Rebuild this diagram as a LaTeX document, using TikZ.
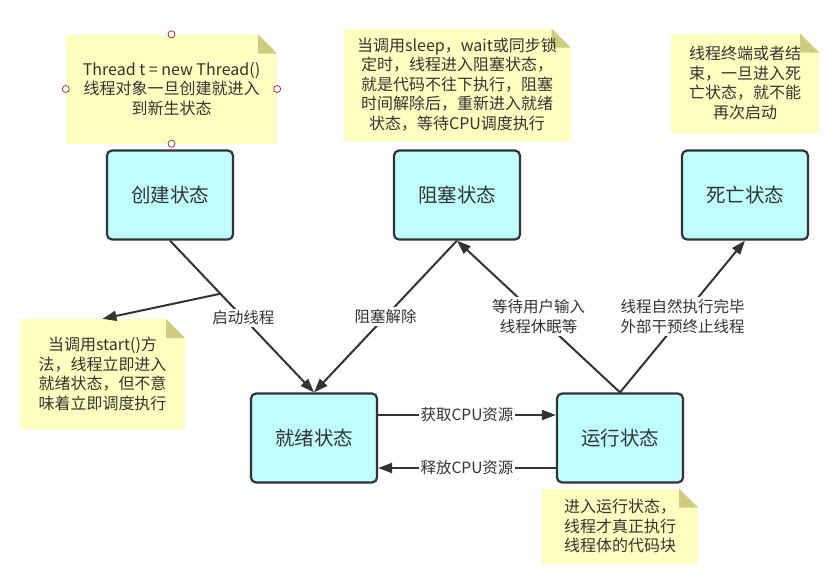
\documentclass[tikz,border=0pt]{standalone}
\usepackage{fontspec}
\setmainfont{Noto Sans CJK SC}
\usepackage{tikz}
\usetikzlibrary{
  arrows.meta,
  positioning
}
\definecolor{ink}{HTML}{333333}
\definecolor{statefill}{HTML}{C0FFFF}
\definecolor{memofill}{HTML}{FFFFC0}
\definecolor{memofold}{HTML}{CFCC80}
\definecolor{grip}{HTML}{A8323E}
\tikzset{
  flow/.style={
    -{Triangle[length=14pt,width=10pt]},
    line width=2pt,
    draw=ink
  },
  arrowlabel/.style={
    fill=white,
    inner sep=2pt,
    text=ink,
    font=\fontsize{15.5}{20}\selectfont,
    align=center
  },
  state/.style={
    draw=ink,
    fill=statefill,
    line width=2.2pt,
    rounded corners=5pt,
    minimum width=126pt,
    minimum height=89pt,
    text=ink,
    font=\fontsize{19.5}{24}\selectfont
  },
  memo/.style={
    fill=memofill,
    inner sep=0pt,
    align=center,
    text=ink,
    font=\fontsize{16}{19.5}\selectfont,
    path picture={
      \fill[white] ([xshift=-19pt]path picture bounding box.north east)
        -- (path picture bounding box.north east)
        -- ([yshift=-19pt]path picture bounding box.north east) -- cycle;
      \fill[memofold] ([xshift=-19pt]path picture bounding box.north east)
        -- ([xshift=-19pt,yshift=-19pt]path picture bounding box.north east)
        -- ([yshift=-19pt]path picture bounding box.north east) -- cycle;
    }
  },
  griphandle/.style={
    draw=grip,
    fill=white,
    line width=0.8pt
  }
}

\begin{document}
\begin{tikzpicture}[x=1pt, y=-1pt, node distance=10pt and 160pt]
  \useasboundingbox (0,0) rectangle (831,581);
  % states
  \node[state] (create) at (170,195) {创建状态};
  \node[state, right=158.8pt of create] (blocked) {阻塞状态};
  \node[state, right=159.8pt of blocked] (dead) {死亡状态};
  \node[state, below right=151.8pt and 15.8pt of create] (ready) {就绪状态};
  \node[state, right=177.8pt of ready] (running) {运行状态};
  % notes
  \node[memo, minimum width=211pt, minimum height=109pt, above=5.7pt of create, xshift=1.5pt] (newnote) {
    Thread t = new Thread()\\线程对象一旦创建就进入\\到新生状态
  };
  \node[memo, minimum width=227pt, minimum height=112pt, above=8.7pt of blocked] (blocknote) {
    当调用sleep，wait或同步锁\\定时，线程进入阻塞状态，\\就是代码不往下执行，阻塞\\时间解除后，重新进入就绪\\状态，等待CPU调度执行
  };
  \node[memo, minimum width=148pt, minimum height=99pt, above=16.7pt of dead] (deadnote) {
    线程终端或者结\\束，一旦进入死\\亡状态，就不能\\再次启动
  };
  \node[memo, minimum width=165pt, minimum height=110pt] (startnote) at (102.5,374) {
    当调用start()方\\法，线程立即进入\\就绪状态，但不意\\味着立即调度执行
  };
  \node[memo, minimum width=156pt, minimum height=75pt, below=4.7pt of running] (runnote) {
    进入运行状态，\\线程才真正执行\\线程体的代码块
  };
  \foreach \side in {north,south,east,west}
    \draw[griphandle] (newnote.\side) circle (3.5pt);
  % transitions
  \draw[flow] (create.south) -- (ready.north)
    node[arrowlabel, pos=0.51] {启动线程}
    coordinate[pos=0.35] (fork);
  \draw[flow] (fork) -- (startnote.north);
  \draw[flow] (blocked.south) -- (ready.north)
    node[arrowlabel, pos=0.5] {阻塞解除};
  \draw[flow] (running.north) -- (blocked.south)
    node[arrowlabel, pos=0.5] {等待用户输入\\线程休眠等};
  \draw[flow] (running.north) -- (dead.south)
    node[arrowlabel, pos=0.5] {线程自然执行完毕\\外部干预终止线程};
  \draw[flow] ([yshift=23pt]ready.east) -- ([yshift=23pt]running.west)
    node[arrowlabel, midway] {获取CPU资源};
  \draw[flow] ([yshift=-30pt]running.west) -- ([yshift=-30pt]ready.east)
    node[arrowlabel, midway] {释放CPU资源};
\end{tikzpicture}
\end{document}
